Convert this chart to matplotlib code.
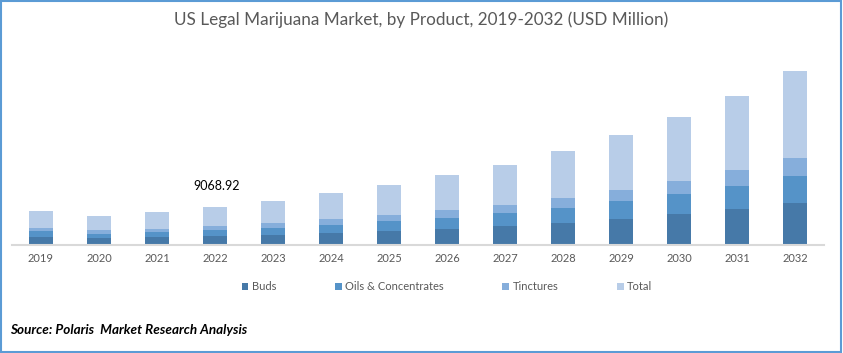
# -*- coding: utf-8 -*-
"""
US legal marijuana market, stacked bars by product
"""
import matplotlib
matplotlib.use('Agg')
import matplotlib.pyplot as plt
from matplotlib.patches import Patch, Rectangle
import numpy as np

# donnees (USD Million)
years = ['2019', '2020', '2021', '2022', '2023', '2024', '2025',
         '2026', '2027', '2028', '2029', '2030', '2031', '2032']
buds = [3820, 3340, 3820, 4290.5, 4770, 5720, 6680, 7630, 9060, 10490,
        12400, 14790, 17170, 20030]
oils = [2860, 1910, 2390, 2860.2, 3340, 3820, 4770, 5250, 6200, 7160,
        8590, 9540, 10970, 12880]
tinctures = [1430, 1910, 1430, 1918.22, 2390, 2860, 2860, 3820, 3820, 4770,
             5250, 6200, 7630, 8590]
total = [8300, 6900, 7900, 9068.92, 10500, 12400, 14300, 16700, 19300,
         22400, 26200, 30500, 35300, 41500]
series_names = ['Buds', 'Oils & Concentrates', 'Tinctures', 'Total']
highlight_year = '2022'

colors = ['#4679A8', '#5593C8', '#86AEDB', '#B8CDE8']

plt.rcParams['font.family'] = ['Lato', 'DejaVu Sans']

fig = plt.figure(figsize=(8.43, 3.53), dpi=100)
ax = fig.add_axes([12/843, 1 - 245/353, 812/843, 185/353])

x = np.arange(len(years))
w = 0.4
bottom = np.zeros(len(years))
for vals, c in zip([buds, oils, tinctures, total], colors):
    ax.bar(x, vals, w, bottom=bottom, color=c, linewidth=0)
    bottom = bottom + np.array(vals)

ax.set_xlim(-0.5, len(years) - 0.5)
ax.set_ylim(0, 88250)
ax.set_xticks(x)
ax.set_xticklabels(years)
ax.set_yticks([])
ax.tick_params(axis='x', length=0, pad=6, labelsize=8, labelcolor='#595959')
for s in ['top', 'left', 'right']:
    ax.spines[s].set_visible(False)
ax.spines['bottom'].set_color('#D9D9D9')
ax.spines['bottom'].set_linewidth(1.5)

# valeur 2022
i = years.index(highlight_year)
ax.annotate('%.2f' % total[i], (x[i], bottom[i]), xytext=(1, 15),
            textcoords='offset points', ha='center', va='center',
            fontsize=9, color='black')

# titre
fig.text(0.5, 1 - 20/353, 'US Legal Marijuana Market, by Product, 2019-2032 (USD Million)',
         ha='center', va='center', fontsize=12.3, color='#595959')

# legende
handles = [Patch(facecolor=c, edgecolor='none') for c in colors]
fig.legend(handles, series_names, loc='center', bbox_to_anchor=(447/843, 1 - 287/353),
           ncol=4, frameon=False, fontsize=8, handlelength=0.6, handleheight=0.6,
           handletextpad=0.3, columnspacing=5.3, borderpad=0, labelcolor='#595959')

# source
fig.text(10/843, 1 - 330/353, 'Source: Polaris  Market Research Analysis',
         ha='left', va='center', fontsize=9.7, fontweight='bold', fontstyle='italic',
         color='black')

# cadre bleu
fig.patches.append(Rectangle((0.001, 0.002), 0.997, 0.995, transform=fig.transFigure,
                             fill=False, edgecolor='#5B9BD5', linewidth=1.5))

plt.savefig('out.png', dpi=100)
